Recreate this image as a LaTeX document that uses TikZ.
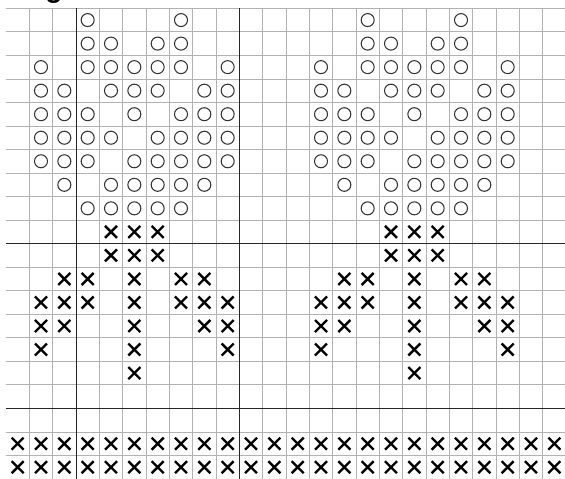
\documentclass[tikz,border=0pt]{standalone}
\usepackage{fontspec}
\setmainfont{Liberation Sans}
\usepackage{tikz}
\usetikzlibrary{shapes.misc}

\begin{document}
\begin{tikzpicture}[
    x=0.7cm, y=0.706cm,
    gridline/.style={draw=gray!60, line width=0.6pt},
    boldline/.style={draw=black!85, line width=0.8pt},
    purl/.style={circle, draw=black!80, line width=0.9pt, minimum size=0.39cm, inner sep=0pt},
    knit/.style={cross out, draw=black, line width=2pt, minimum size=0.29cm, inner sep=0pt},
    title/.style={font=\fontsize{24}{28}\selectfont\bfseries, anchor=base west, inner sep=0pt}
]
\useasboundingbox (-0.257,0) rectangle (23.957,20.353);

\node[title] (title) at (-0.064,20.44) {Original};

\foreach \i in {1,...,23} \draw[gridline] (\i,0) -- (\i,20);
\foreach \j in {0,...,20} \draw[gridline] (0,\j) -- (24,\j);
\foreach \i in {3,10} \draw[boldline] (\i,0) -- (\i,20);
\foreach \j in {3,10} \draw[boldline] (0,\j) -- (24,\j);

\foreach \dx in {0,12}{
  \foreach \r/\cols in {1/{4,8}, 2/{4,5,7,8}, 3/{2,4,5,6,7,8,10}, 4/{2,3,5,6,7,9,10},
      5/{2,3,4,6,8,9,10}, 6/{2,3,4,5,7,8,9,10}, 7/{2,3,4,6,7,8,9,10}, 8/{3,5,6,7,8,9}, 9/{4,5,6,7,8}}{
    \foreach \c in \cols{
      \pgfmathtruncatemacro\k{\c+\dx}
      \node[purl] (o-\r-\k) at (\k-0.5,20.5-\r) {};
    }
  }
  \foreach \r/\cols in {10/{5,6,7}, 11/{5,6,7}, 12/{3,4,6,8,9}, 13/{2,3,4,6,8,9,10},
      14/{2,3,6,9,10}, 15/{2,6,10}, 16/{6}}{
    \foreach \c in \cols{
      \pgfmathtruncatemacro\k{\c+\dx}
      \node[knit] (x-\r-\k) at (\k-0.5,20.5-\r) {};
    }
  }
}

\foreach \r in {19,20}
  \foreach \k in {1,...,24}
    \node[knit] (x-\r-\k) at (\k-0.5,20.5-\r) {};

\end{tikzpicture}
\end{document}
